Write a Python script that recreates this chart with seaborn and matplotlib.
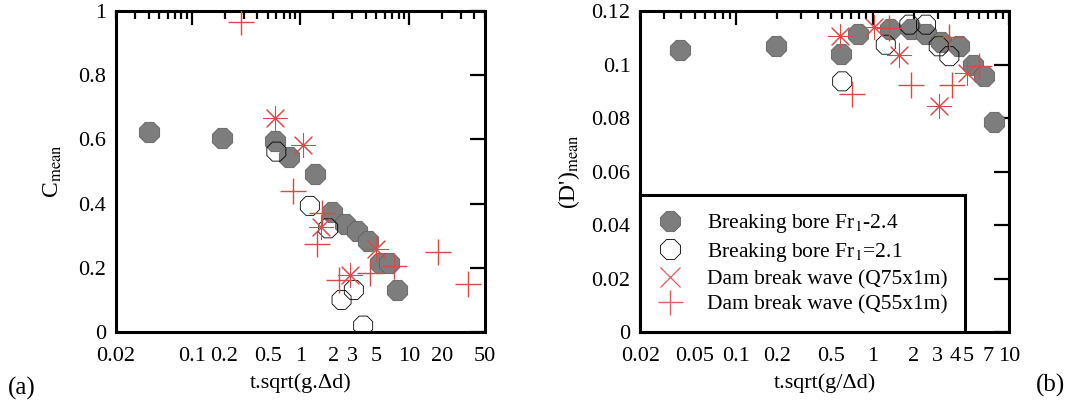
import numpy as np
import pandas as pd
import seaborn as sns
import matplotlib.pyplot as plt
from matplotlib.lines import Line2D
from matplotlib.ticker import LogLocator, FuncFormatter

# panel (a): C_mean vs t.sqrt(g.dd)
a_bore24_x = [0.04, 0.19, 0.58, 0.78, 1.36, 1.94, 2.56, 3.29, 4.2, 5.4, 6.6, 7.8]
a_bore24_y = [0.622, 0.605, 0.596, 0.545, 0.492, 0.375, 0.336, 0.315, 0.284, 0.214, 0.214, 0.131]
a_bore21_x = [0.60, 1.22, 1.8, 2.39, 3.1, 3.78]
a_bore21_y = [0.562, 0.393, 0.323, 0.10, 0.131, 0.02]
a_q75_x = [0.58, 1.06, 1.53, 2.86, 4.95]
a_q75_y = [0.666, 0.583, 0.328, 0.178, 0.258]
a_q55_x = [0.283, 0.86, 1.57, 1.43, 2.27, 4.37, 7.3, 18.6, 35.1]
a_q55_y = [0.967, 0.44, 0.37, 0.274, 0.162, 0.185, 0.206, 0.248, 0.15]

# panel (b): (D')_mean vs t.sqrt(g/dd)
b_bore24_x = [0.039, 0.197, 0.59, 0.78, 1.35, 1.91, 2.46, 3.17, 4.31, 5.4, 6.57, 7.78]
b_bore24_y = [0.1055, 0.1068, 0.104, 0.1115, 0.1134, 0.1133, 0.1115, 0.1083, 0.1068, 0.0999, 0.0958, 0.0784]
b_bore21_x = [0.60, 1.25, 1.86, 2.46, 3.05, 3.65]
b_bore21_y = [0.0937, 0.1074, 0.1149, 0.1149, 0.1068, 0.1031]
b_q75_x = [0.578, 1.03, 1.55, 3.05, 4.89]
b_q75_y = [0.1108, 0.114, 0.1037, 0.0844, 0.0968]
b_q55_x = [0.71, 1.32, 1.91, 3.65, 3.81, 6.04]
b_q55_y = [0.0891, 0.1136, 0.0922, 0.1103, 0.0922, 0.0993]

labels = ["Breaking bore Fr$_1$-2.4", "Breaking bore Fr$_1$=2.1",
          "Dam break wave (Q75x1m)", "Dam break wave (Q55x1m)"]

a_xlabels = [0.02, 0.1, 0.2, 0.5, 1, 2, 3, 5, 10, 20, 50]
b_xlabels = [0.02, 0.05, 0.1, 0.2, 0.5, 1, 2, 3, 4, 5, 7, 10]

sns.set_style("white")
plt.rcParams['font.family'] = ['Liberation Serif', 'DejaVu Serif']
plt.rcParams['mathtext.fontset'] = 'stix'
plt.rcParams['font.size'] = 16
for k in ['text.color', 'axes.labelcolor', 'xtick.color', 'ytick.color', 'axes.edgecolor']:
    plt.rcParams[k] = 'black'

RED = "#d84a4a"
GREY = "#7d7d7d"
asterisk = (8, 2, 0)


def draw(ax, bx, by, ox, oy, sx, sy, px, py):
    sns.scatterplot(x=bx, y=by, ax=ax, marker="8", s=250, color=GREY,
                    edgecolor="#606060", linewidth=0.6, zorder=3)
    sns.scatterplot(x=ox, y=oy, ax=ax, marker="8", s=220, facecolor="none",
                    edgecolor="black", linewidth=0.6, zorder=4)
    sns.scatterplot(x=sx, y=sy, ax=ax, marker=asterisk, s=300, color=RED,
                    linewidth=0.75, zorder=5)
    sns.scatterplot(x=px, y=py, ax=ax, marker="+", s=330, color=RED,
                    linewidth=1.0, zorder=5)


def style_axes(ax, xlim, ylim, yticks, xlab, xtitle):
    ax.set_xscale("log")
    ax.set_xlim(*xlim)
    ax.set_ylim(*ylim)
    ax.set_yticks(yticks)
    ax.yaxis.set_major_formatter(FuncFormatter(lambda v, p: "%g" % round(v, 3)))
    ax.xaxis.set_major_locator(LogLocator(base=10))
    ax.xaxis.set_minor_locator(LogLocator(base=10, subs=np.arange(2, 10)))
    shown = set(np.round(xlab, 4))
    fmt = FuncFormatter(lambda v, p: ("%g" % v) if round(v, 4) in shown else "")
    ax.xaxis.set_major_formatter(fmt)
    ax.xaxis.set_minor_formatter(fmt)
    ax.tick_params(axis="both", which="both", direction="in", top=True, right=True,
                   width=1.6, labelsize=16, pad=7)
    ax.tick_params(axis="x", which="both", pad=11)
    ax.tick_params(axis="x", which="major", length=10)
    ax.tick_params(axis="x", which="minor", length=6)
    ax.tick_params(axis="y", which="major", length=11)
    for sp in ax.spines.values():
        sp.set_linewidth(2.2)
    ax.set_xlabel(xtitle, fontsize=16, labelpad=5)


fig = plt.figure(figsize=(10.92, 4.11), dpi=100)
ax1 = fig.add_axes([0.1062, 0.1922, 0.3379, 0.781])
ax2 = fig.add_axes([0.5863, 0.1922, 0.3379, 0.781])

draw(ax1, a_bore24_x, a_bore24_y, a_bore21_x, a_bore21_y, a_q75_x, a_q75_y, a_q55_x, a_q55_y)
draw(ax2, b_bore24_x, b_bore24_y, b_bore21_x, b_bore21_y, b_q75_x, b_q75_y, b_q55_x, b_q55_y)

style_axes(ax1, (0.02, 50), (0, 1), [0, 0.2, 0.4, 0.6, 0.8, 1], a_xlabels, "t.sqrt(g.Δd)")
style_axes(ax2, (0.02, 10), (0, 0.12), [0, 0.02, 0.04, 0.06, 0.08, 0.1, 0.12], b_xlabels, "t.sqrt(g/Δd)")

ax1.set_ylabel("C$_{\\rm mean}$", fontsize=17, labelpad=10)
ax2.set_ylabel("(D')$_{\\rm mean}$", fontsize=17, labelpad=7)

handles = [
    Line2D([], [], ls="", marker="8", ms=15, mfc=GREY, mec="#606060", mew=0.6),
    Line2D([], [], ls="", marker="8", ms=15, mfc="none", mec="black", mew=0.6),
    Line2D([], [], ls="", marker="x", ms=14, color="#e06060", mew=0.9),
    Line2D([], [], ls="", marker="+", ms=18, color="#e06060", mew=1.0),
]
leg = ax2.legend(handles, labels, loc="lower left", bbox_to_anchor=(0, 0),
                 borderaxespad=0, frameon=True, fancybox=False, fontsize=15.5,
                 handletextpad=1.1, labelspacing=0.25, borderpad=0.8,
                 handlelength=1.2)
leg.get_frame().set_edgecolor("black")
leg.get_frame().set_linewidth(2.2)
leg.get_frame().set_alpha(1)
leg.set_zorder(10)

fig.text(0.007, 0.056, "(a)", fontsize=18, va="center", ha="left")
fig.text(0.975, 0.061, "(b)", fontsize=18, va="center", ha="right")

fig.savefig("out.png", dpi=100)
